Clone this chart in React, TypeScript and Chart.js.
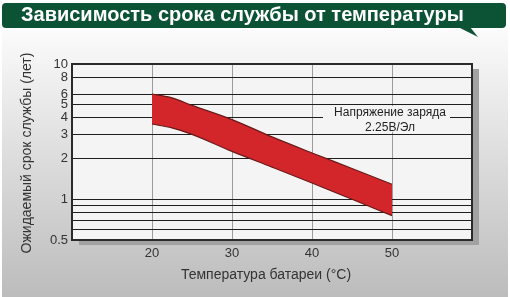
import React, { useEffect, useRef } from 'react';
import { Chart, registerables } from 'chart.js';

Chart.register(...registerables);

const chartTitle = 'Зависимость срока службы от температуры';
const xAxisTitle = 'Температура батареи (°C)';
const yAxisTitle = 'Ожидаемый срок службы (лет)';
const noteLines = ['Напряжение заряда', '2.25В/Эл'];

const temperatures = [20, 22.5, 25, 30, 35, 40, 45, 50];
const lifeUpper = [6.0, 5.62, 4.94, 3.88, 2.89, 2.2, 1.69, 1.29];
const lifeLower = [3.6, 3.37, 3.02, 2.26, 1.73, 1.32, 1.0, 0.757];

const xTicks = [10, 20, 30, 40, 50, 60];
const xLabels = [20, 30, 40, 50];
const yGrid = [0.5, 0.6, 0.7, 0.8, 0.9, 1, 2, 3, 4, 5, 6, 8, 10];
const yLabels = [0.5, 1, 2, 3, 4, 5, 6, 8, 10];

const FONT = '"Liberation Sans", Arial, sans-serif';

function roundRect(ctx: CanvasRenderingContext2D, x: number, y: number, w: number, h: number, r: number) {
  ctx.beginPath();
  ctx.moveTo(x + r, y);
  ctx.lineTo(x + w - r, y);
  ctx.quadraticCurveTo(x + w, y, x + w, y + r);
  ctx.lineTo(x + w, y + h - r);
  ctx.quadraticCurveTo(x + w, y + h, x + w - r, y + h);
  ctx.lineTo(x + r, y + h);
  ctx.quadraticCurveTo(x, y + h, x, y + h - r);
  ctx.lineTo(x, y + r);
  ctx.quadraticCurveTo(x, y, x + r, y);
  ctx.closePath();
}

const decorPlugin = {
  id: 'decor',
  beforeDraw(chart: any) {
    const { ctx, width, height, chartArea: a } = chart;
    ctx.save();
    ctx.fillStyle = '#ffffff';
    ctx.fillRect(0, 0, width, height);
    const g = ctx.createLinearGradient(0, 30, 0, height);
    g.addColorStop(0, '#fbfbfb');
    g.addColorStop(1, '#bcbcbc');
    ctx.fillStyle = g;
    ctx.fillRect(2, 30, width - 4, height - 30);

    // title bar
    ctx.fillStyle = '#0c5336';
    roundRect(ctx, 2, 3, 504, 25, 4);
    ctx.fill();
    ctx.beginPath();
    ctx.moveTo(458, 27);
    ctx.lineTo(478, 37);
    ctx.lineTo(470, 27);
    ctx.closePath();
    ctx.fill();
    ctx.fillStyle = '#ffffff';
    ctx.font = 'bold 20px ' + FONT;
    ctx.textBaseline = 'middle';
    ctx.textAlign = 'left';
    ctx.fillText(chartTitle, 21, 15.5);

    // shadow + plot background
    ctx.fillStyle = '#a2a2a2';
    ctx.fillRect(a.left + 7, a.top + 5, a.right - a.left, a.bottom - a.top);
    ctx.fillStyle = '#f4f4f4';
    ctx.fillRect(a.left, a.top, a.right - a.left, a.bottom - a.top);

    // axis titles
    ctx.fillStyle = '#333333';
    ctx.font = '14px ' + FONT;
    ctx.textAlign = 'center';
    ctx.textBaseline = 'middle';
    ctx.fillText(xAxisTitle, 266, 275);
    ctx.translate(27, 153);
    ctx.rotate(-Math.PI / 2);
    ctx.fillText(yAxisTitle, 0, 0);
    ctx.restore();
  },
  beforeDatasetsDraw(chart: any) {
    const { ctx, chartArea: a } = chart;
    ctx.save();
    ctx.fillStyle = '#f4f4f4';
    ctx.fillRect(a.left + 251, 106, 127, 26);
    ctx.restore();
  },
  afterDraw(chart: any) {
    const { ctx, chartArea: a } = chart;
    ctx.save();
    ctx.fillStyle = '#222222';
    ctx.font = '12px ' + FONT;
    ctx.textAlign = 'center';
    ctx.textBaseline = 'middle';
    ctx.fillText(noteLines[0], a.left + 318, 113);
    ctx.fillText(noteLines[1], a.left + 318, 128);
    ctx.strokeStyle = '#2a2a2a';
    ctx.lineWidth = 2;
    ctx.strokeRect(a.left, a.top, a.right - a.left, a.bottom - a.top);
    ctx.restore();
  },
};

export default function App() {
  const ref = useRef<HTMLCanvasElement | null>(null);
  useEffect(() => {
    document.body.style.margin = '0';
    const canvas = ref.current;
    if (!canvas) return;
    const chart = new Chart(canvas, {
      type: 'line',
      data: {
        datasets: [
          {
            label: 'upper',
            data: temperatures.map((t, i) => ({ x: t, y: lifeUpper[i] })),
            borderColor: '#6a1818',
            borderWidth: 1.2,
            pointRadius: 0,
            fill: false,
            cubicInterpolationMode: 'monotone',
          },
          {
            label: 'lower',
            data: temperatures.map((t, i) => ({ x: t, y: lifeLower[i] })),
            borderColor: '#6a1818',
            borderWidth: 1.2,
            pointRadius: 0,
            backgroundColor: '#d3262a',
            fill: '-1',
            cubicInterpolationMode: 'monotone',
          },
        ],
      },
      options: {
        animation: false,
        responsive: false,
        devicePixelRatio: 1,
        layout: { padding: { top: 64, right: 38, bottom: 0, left: 0 } },
        plugins: { legend: { display: false }, tooltip: { enabled: false }, title: { display: false } },
        scales: {
          x: {
            type: 'linear',
            min: 10,
            max: 60,
            afterBuildTicks: (s: any) => {
              s.ticks = xTicks.map((v) => ({ value: v }));
            },
            afterFit: (s: any) => {
              s.height = 57;
            },
            grid: {
              drawTicks: false,
              color: (c: any) => (xLabels.includes(c.tick?.value) ? '#9c9c9c' : 'rgba(0,0,0,0)'),
              lineWidth: 1,
            },
            border: { display: false },
            ticks: {
              padding: 6,
              color: '#333333',
              font: { family: FONT, size: 13 },
              maxRotation: 0,
              autoSkip: false,
              callback: (v: any) => (xLabels.includes(Number(v)) ? String(v) : ''),
            },
          },
          y: {
            type: 'logarithmic',
            min: 0.5,
            max: 10,
            afterBuildTicks: (s: any) => {
              s.ticks = yGrid.map((v) => ({ value: v }));
            },
            afterFit: (s: any) => {
              s.width = 72;
            },
            grid: {
              drawTicks: false,
              color: '#1e1e1e',
              lineWidth: 1,
            },
            border: { display: false },
            ticks: {
              padding: 4,
              color: '#333333',
              font: { family: FONT, size: 13 },
              autoSkip: false,
              callback: (v: any) => (yLabels.includes(Number(v)) ? String(v) : ''),
            },
          },
        },
      },
      plugins: [decorPlugin],
    } as any);
    return () => chart.destroy();
  }, []);
  return (
    <div style={{ position: 'absolute', left: 0, top: 0, width: 510, height: 297 }}>
      <canvas ref={ref} width={510} height={297} style={{ display: 'block', width: 510, height: 297 }} />
    </div>
  );
}
